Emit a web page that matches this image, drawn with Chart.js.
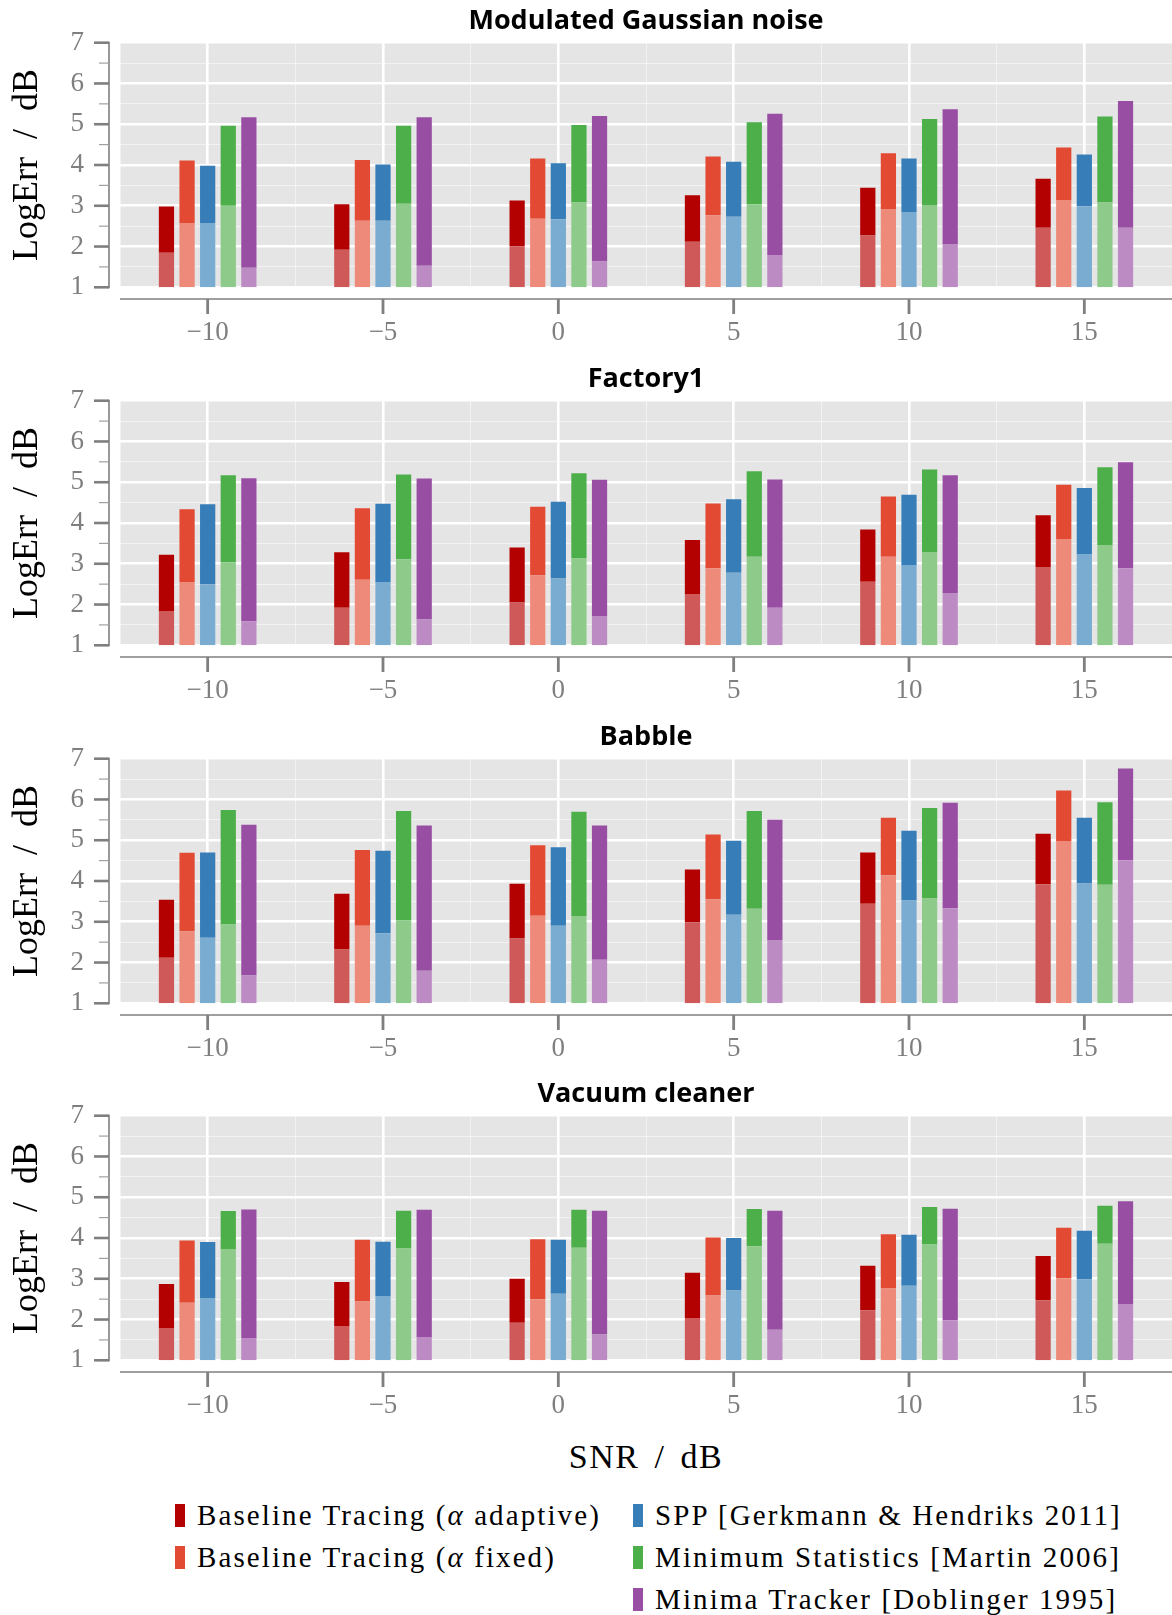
<!DOCTYPE html>
<html>
<head>
<meta charset="utf-8">
<script src="https://cdn.jsdelivr.net/npm/chart.js@4.4.1/dist/chart.umd.min.js"></script>
<style>
  html, body { margin: 0; padding: 0; background: #fff; }
  #page { position: relative; width: 1172px; height: 1615px; overflow: hidden; background: #fff; }
  canvas.panel { position: absolute; left: 0; }
  .xtitle { position: absolute; left: 120px; width: 1052px; top: 1435px; height: 44px; line-height: 44px;
            text-align: center; font-family: "Liberation Serif", serif; font-size: 34px; color: #000;
            letter-spacing: 1.5px; word-spacing: 5px; }
  .leg-text { position: absolute; height: 40px; line-height: 40px; white-space: nowrap;
              font-family: "Liberation Serif", serif; font-size: 29px; letter-spacing: 2.1px; color: #000; }
  .leg-sw { position: absolute; width: 10px; height: 23px; }
</style>
</head>
<body>
<div id="page">
  <div class="xtitle">SNR / dB</div>
</div>
<script>
// SNR levels of the test signals
const snr = [-10, -5, 0, 5, 10, 15];

// Noise-tracking methods
const methods = [
  'Baseline Tracing (<i>α</i> adaptive)',
  'Baseline Tracing (<i>α</i> fixed)',
  'SPP [Gerkmann &amp; Hendriks 2011]',
  'Minimum Statistics [Martin 2006]',
  'Minima Tracker [Doblinger 1995]'
];
const darkColors  = ['#b30000', '#e34a33', '#377eb8', '#4daf4a', '#984ea3'];
const lightColors = ['#cf5959', '#ee8a7a', '#7aabd0', '#8ecb8b', '#bc8bc4'];

const noiseTitles = ['Modulated Gaussian noise', 'Factory1', 'Babble', 'Vacuum cleaner'];

// LogErr per method (rows) and SNR (columns): full bar height and the lighter lower part
const gaussianTotal = [
  [2.98, 3.04, 3.13, 3.26, 3.44, 3.66],
  [4.11, 4.12, 4.16, 4.21, 4.29, 4.43],
  [3.98, 4.01, 4.04, 4.08, 4.16, 4.26],
  [4.96, 4.96, 4.98, 5.05, 5.13, 5.19],
  [5.17, 5.17, 5.20, 5.26, 5.37, 5.57]
];
const gaussianLower = [
  [1.85, 1.92, 2.01, 2.12, 2.27, 2.46],
  [2.58, 2.63, 2.68, 2.77, 2.92, 3.14],
  [2.58, 2.63, 2.67, 2.73, 2.85, 2.99],
  [3.00, 3.05, 3.08, 3.04, 3.02, 3.08],
  [1.48, 1.53, 1.63, 1.79, 2.06, 2.46]
];

const factoryTotal = [
  [3.22, 3.28, 3.40, 3.58, 3.84, 4.19],
  [4.34, 4.36, 4.40, 4.48, 4.65, 4.94],
  [4.46, 4.47, 4.52, 4.58, 4.69, 4.86],
  [5.17, 5.19, 5.22, 5.27, 5.31, 5.37],
  [5.10, 5.09, 5.06, 5.07, 5.17, 5.49]
];
const factoryLower = [
  [1.84, 1.92, 2.05, 2.26, 2.56, 2.92],
  [2.55, 2.61, 2.72, 2.89, 3.17, 3.61],
  [2.50, 2.55, 2.64, 2.78, 2.97, 3.24],
  [3.04, 3.11, 3.13, 3.17, 3.29, 3.46],
  [1.59, 1.63, 1.72, 1.92, 2.28, 2.89]
];

const babbleTotal = [
  [3.54, 3.69, 3.93, 4.28, 4.70, 5.16],
  [4.69, 4.76, 4.88, 5.14, 5.55, 6.22],
  [4.70, 4.74, 4.83, 4.99, 5.23, 5.55],
  [5.74, 5.72, 5.70, 5.72, 5.79, 5.93],
  [5.38, 5.36, 5.36, 5.50, 5.92, 6.76]
];
const babbleLower = [
  [2.12, 2.32, 2.59, 2.99, 3.44, 3.92],
  [2.77, 2.90, 3.15, 3.55, 4.14, 4.98],
  [2.61, 2.72, 2.90, 3.17, 3.52, 3.94],
  [2.93, 3.03, 3.14, 3.32, 3.57, 3.91],
  [1.68, 1.80, 2.07, 2.55, 3.33, 4.51]
];

const vacuumTotal = [
  [2.87, 2.92, 3.00, 3.15, 3.32, 3.56],
  [3.94, 3.96, 3.97, 4.01, 4.09, 4.25],
  [3.90, 3.91, 3.96, 4.00, 4.08, 4.18],
  [4.66, 4.67, 4.69, 4.71, 4.76, 4.79],
  [4.70, 4.69, 4.67, 4.67, 4.72, 4.90]
];
const vacuumLower = [
  [1.79, 1.84, 1.92, 2.04, 2.23, 2.47],
  [2.41, 2.44, 2.50, 2.59, 2.76, 3.01],
  [2.53, 2.58, 2.63, 2.71, 2.83, 2.98],
  [3.73, 3.74, 3.76, 3.80, 3.84, 3.86],
  [1.55, 1.57, 1.63, 1.75, 1.98, 2.38]
];

const panelTotals = [gaussianTotal, factoryTotal, babbleTotal, vacuumTotal];
const panelLowers = [gaussianLower, factoryLower, babbleLower, vacuumLower];

// Axis ranges and tick steps
const xMin = -12.5, xMax = 17.5, xStep = 2.5, xLabelStep = 5;
const yMin = 1, yMax = 7, yStep = 0.5;

const PANEL_W = 1172, PANEL_H = 358, PANEL_PITCH = 357.8;
const AXIS_GRAY = '#7f7f7f';

function fmtSigned(v) {
  return v < 0 ? '\u2212' + Math.abs(v) : String(v);
}
function isMajorX(v) { return Math.abs(v % xLabelStep) < 1e-9; }
function isMajorY(v) { return Math.abs(v - Math.round(v)) < 1e-9; }

// Grey panel background plus axis lines set a little apart from the panel
const ggAxes = {
  id: 'ggAxes',
  beforeDraw(chart) {
    const { ctx, chartArea: a } = chart;
    ctx.save();
    ctx.fillStyle = '#e5e5e5';
    ctx.fillRect(a.left, a.top, a.right - a.left, a.bottom - a.top);
    ctx.restore();
  },
  afterDraw(chart) {
    const { ctx, chartArea: a, scales: { x, y } } = chart;
    ctx.save();
    ctx.lineCap = 'butt';

    // vertical axis
    const axX = a.left - 11;
    const yTop = y.getPixelForValue(yMax), yBot = y.getPixelForValue(yMin);
    ctx.strokeStyle = AXIS_GRAY;
    ctx.lineWidth = 1.6;
    ctx.beginPath(); ctx.moveTo(axX, yTop - 1); ctx.lineTo(axX, yBot + 1); ctx.stroke();
    y.ticks.forEach(t => {
      const py = y.getPixelForValue(t.value);
      const major = isMajorY(t.value);
      ctx.strokeStyle = major ? AXIS_GRAY : '#a0a0a0';
      ctx.lineWidth = major ? 2.6 : 1.2;
      ctx.beginPath(); ctx.moveTo(axX - (major ? 15 : 10), py); ctx.lineTo(axX, py); ctx.stroke();
    });

    // horizontal axis
    const axY = a.bottom + 11.7;
    ctx.strokeStyle = AXIS_GRAY;
    ctx.lineWidth = 1.6;
    ctx.beginPath(); ctx.moveTo(x.getPixelForValue(xMin), axY); ctx.lineTo(x.getPixelForValue(xMax), axY); ctx.stroke();
    ctx.lineWidth = 2.8;
    x.ticks.forEach(t => {
      if (!isMajorX(t.value)) return;
      const px = x.getPixelForValue(t.value);
      ctx.beginPath(); ctx.moveTo(px, axY); ctx.lineTo(px, axY + 15); ctx.stroke();
    });
    ctx.restore();
  }
};

function buildDatasets(totals, lowers) {
  const sets = [];
  methods.forEach((m, s) => {
    sets.push({
      label: m + ' (lower)',
      data: snr.map((v, k) => ({ x: v, y: [yMin, lowers[s][k]] })),
      backgroundColor: lightColors[s],
      stack: 'm' + s,
      borderWidth: 0
    });
    sets.push({
      label: m,
      data: snr.map((v, k) => ({ x: v, y: [lowers[s][k], totals[s][k]] })),
      backgroundColor: darkColors[s],
      stack: 'm' + s,
      borderWidth: 0
    });
  });
  return sets;
}

const page = document.getElementById('page');

noiseTitles.forEach((title, p) => {
  const cv = document.createElement('canvas');
  cv.className = 'panel';
  cv.width = PANEL_W;
  cv.height = PANEL_H;
  cv.style.width = PANEL_W + 'px';
  cv.style.height = PANEL_H + 'px';
  cv.style.top = Math.round(p * PANEL_PITCH) + 'px';
  page.appendChild(cv);

  new Chart(cv.getContext('2d'), {
    type: 'bar',
    data: { datasets: buildDatasets(panelTotals[p], panelLowers[p]) },
    options: {
      responsive: false,
      maintainAspectRatio: false,
      animation: false,
      devicePixelRatio: 1,
      events: [],
      layout: { padding: 0 },
      // the bar ruler spacing follows the 2.5-unit tick step, so a group spans ~1.18 of it
      categoryPercentage: 1.175,
      barPercentage: 0.74,
      plugins: {
        legend: { display: false },
        tooltip: { enabled: false },
        title: {
          display: true,
          text: title,
          fullSize: false,
          color: '#000',
          font: { family: 'Open Sans', size: 27, weight: 'bold', lineHeight: 1.2 },
          padding: { top: 5, bottom: 5.3 }
        }
      },
      scales: {
        x: {
          type: 'linear',
          min: xMin,
          max: xMax,
          offset: false,
          border: { display: false },
          grid: {
            offset: false,
            drawTicks: true,
            tickLength: 29,
            tickColor: 'rgba(0,0,0,0)',
            color: c => (c.tick && isMajorX(c.tick.value)) ? '#ffffff' : 'rgba(255,255,255,0.5)',
            lineWidth: c => (c.tick && isMajorX(c.tick.value)) ? 2.6 : 1
          },
          ticks: {
            stepSize: xStep,
            autoSkip: false,
            maxRotation: 0,
            padding: 0,
            color: AXIS_GRAY,
            font: { family: 'Liberation Serif', size: 27 },
            callback: v => isMajorX(v) ? fmtSigned(v) : ''
          },
          afterFit: s => { s.height = PANEL_H - 287.3; }
        },
        y: {
          min: yMin,
          max: yMax,
          stacked: false,
          beginAtZero: false,
          border: { display: false },
          grid: {
            drawTicks: true,
            tickLength: 36,
            tickColor: 'rgba(0,0,0,0)',
            color: c => (c.tick && isMajorY(c.tick.value)) ? '#ffffff' : 'rgba(255,255,255,0.5)',
            lineWidth: c => (c.tick && isMajorY(c.tick.value)) ? 2.6 : 1
          },
          ticks: {
            stepSize: yStep,
            autoSkip: false,
            padding: 0,
            color: AXIS_GRAY,
            font: { family: 'Liberation Serif', size: 27 },
            callback: v => isMajorY(v) ? String(Math.round(v)) : ''
          },
          title: {
            display: true,
            text: 'LogErr  /  dB',
            color: '#000',
            font: { family: 'Liberation Serif', size: 36, lineHeight: 1.2 },
            padding: { top: 6, bottom: 0 }
          },
          afterFit: s => { s.width = 120; }
        }
      }
    },
    plugins: [ggAxes]
  });
});

// Legend: two columns, filled column by column
const legendCols = [175, 633];
const legendRows = [1515, 1557, 1599];
const legendSlots = [[0, 0], [0, 1], [1, 0], [1, 1], [1, 2]];
methods.forEach((m, s) => {
  const [c, r] = legendSlots[s];
  const sw = document.createElement('div');
  sw.className = 'leg-sw';
  sw.style.left = legendCols[c] + 'px';
  sw.style.top = (legendRows[r] - 11.5) + 'px';
  sw.style.background = darkColors[s];
  page.appendChild(sw);
  const tx = document.createElement('div');
  tx.className = 'leg-text';
  tx.style.left = (legendCols[c] + 22) + 'px';
  tx.style.top = (legendRows[r] - 20) + 'px';
  tx.innerHTML = m;
  page.appendChild(tx);
});
</script>
</body>
</html>
